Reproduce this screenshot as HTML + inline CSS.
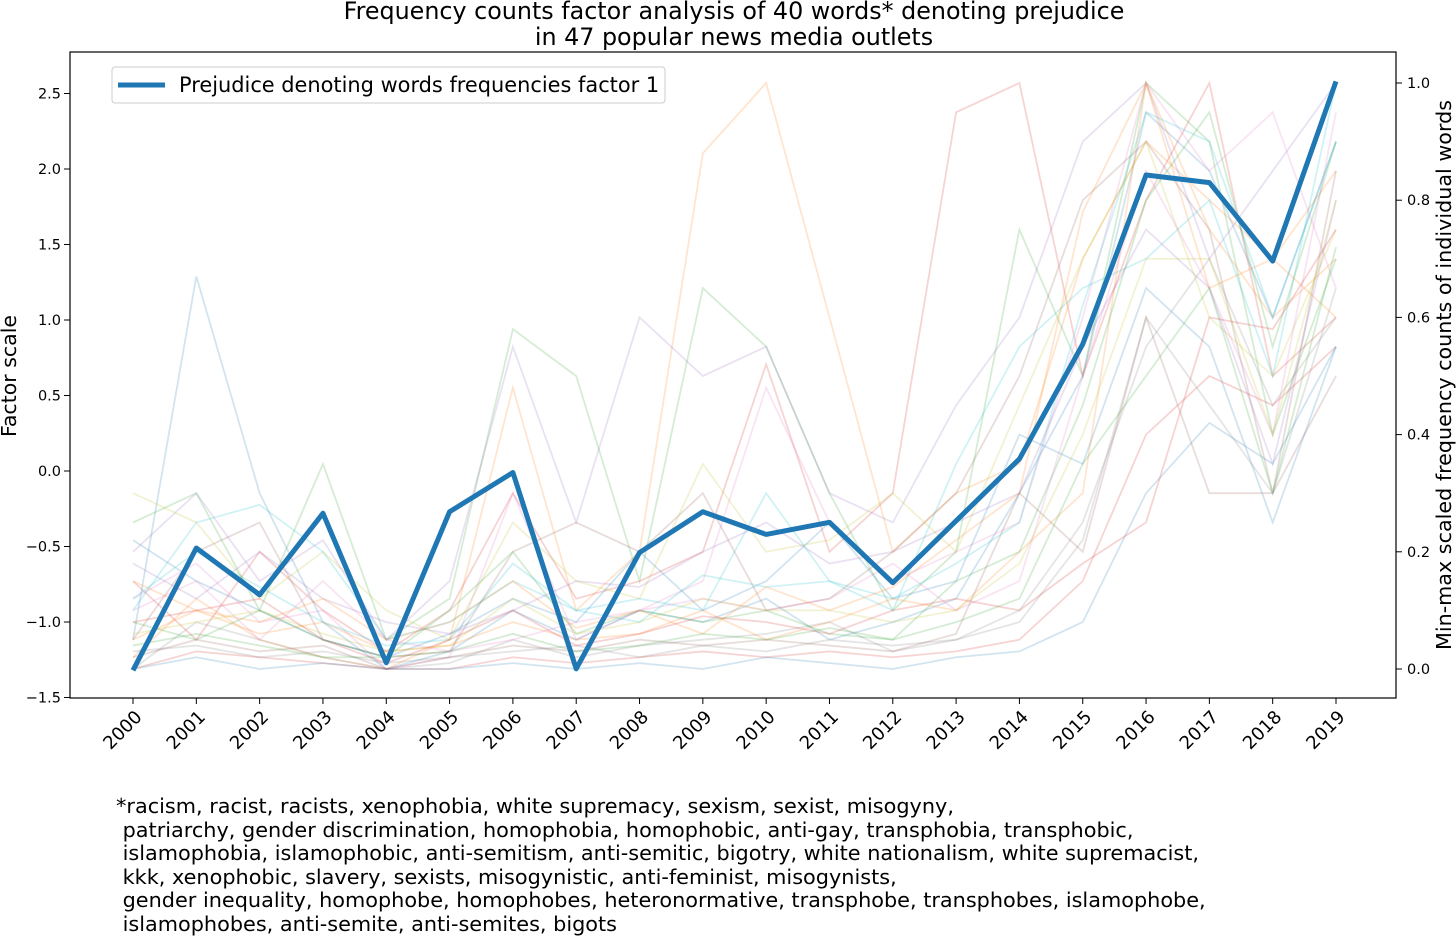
<!DOCTYPE html>
<html><head><meta charset="utf-8">
<style>
body{margin:0;background:#fff;width:1456px;height:937px;overflow:hidden;font-family:"DejaVu Sans","Liberation Sans",sans-serif;}
svg text{font-family:"DejaVu Sans","Liberation Sans",sans-serif;fill:#000;}
#foot{position:absolute;left:116px;top:795px;font-size:20.8px;line-height:23.5px;white-space:pre;color:#000;}
</style></head><body>
<svg id="chart" width="1456" height="937" style="position:absolute;left:0;top:0"></svg>
<div id="foot">*racism, racist, racists, xenophobia, white supremacy, sexism, sexist, misogyny,
 patriarchy, gender discrimination, homophobia, homophobic, anti-gay, transphobia, transphobic,
 islamophobia, islamophobic, anti-semitism, anti-semitic, bigotry, white nationalism, white supremacist,
 kkk, xenophobic, slavery, sexists, misogynistic, anti-feminist, misogynists,
 gender inequality, homophobe, homophobes, heteronormative, transphobe, transphobes, islamophobe,
 islamophobes, anti-semite, anti-semites, bigots</div>
<script>
const years=[2000,2001,2002,2003,2004,2005,2006,2007,2008,2009,2010,2011,2012,2013,2014,2015,2016,2017,2018,2019];
const factor1=[-1.32,-0.51,-0.82,-0.28,-1.27,-0.27,-0.01,-1.31,-0.54,-0.27,-0.42,-0.34,-0.74,-0.33,0.08,0.84,1.96,1.91,1.39,2.58];
const leftTicks=[-1.5,-1.0,-0.5,0.0,0.5,1.0,1.5,2.0,2.5];
const rightTicks=[0.0,0.2,0.4,0.6,0.8,1.0];
const words=[
[0.05,0.67,0.3,0.08,0.0,0.03,0.1,0.05,0.1,0.08,0.12,0.05,0.08,0.12,0.3,0.5,0.95,0.85,0.6,0.9],
[0.02,0.12,0.05,0.02,0.0,0.05,0.48,0.1,0.2,0.88,1.0,0.6,0.2,0.3,0.35,0.7,0.9,0.8,0.7,0.85],
[0.25,0.3,0.1,0.35,0.05,0.12,0.58,0.5,0.15,0.65,0.55,0.3,0.1,0.2,0.75,0.5,1.0,0.9,0.4,0.7],
[0.15,0.05,0.2,0.1,0.03,0.1,0.3,0.12,0.15,0.2,0.52,0.2,0.3,0.95,1.0,0.5,0.8,1.0,0.5,0.6],
[0.2,0.3,0.15,0.22,0.05,0.15,0.55,0.25,0.6,0.5,0.55,0.3,0.25,0.45,0.6,0.9,1.0,0.7,0.85,1.0],
[0.05,0.2,0.25,0.05,0.02,0.03,0.2,0.25,0.2,0.3,0.1,0.12,0.2,0.3,0.5,0.8,0.9,0.75,0.3,0.85],
[0.12,0.18,0.08,0.1,0.0,0.02,0.3,0.05,0.1,0.15,0.48,0.25,0.15,0.2,0.25,0.6,1.0,0.85,0.95,0.65],
[0.0,0.08,0.05,0.02,0.0,0.01,0.05,0.02,0.04,0.05,0.06,0.08,0.03,0.05,0.1,0.25,0.55,0.7,0.45,0.6],
[0.3,0.25,0.12,0.2,0.1,0.05,0.25,0.15,0.12,0.35,0.2,0.22,0.3,0.2,0.45,0.7,0.9,0.6,0.5,0.75],
[0.1,0.25,0.28,0.2,0.05,0.08,0.15,0.1,0.12,0.1,0.3,0.15,0.1,0.35,0.55,0.65,0.7,0.8,0.5,1.0],
[0.22,0.15,0.1,0.05,0.02,0.06,0.12,0.08,0.2,0.1,0.15,0.25,0.12,0.15,0.4,0.35,0.65,0.55,0.25,0.55],
[0.05,0.1,0.06,0.08,0.03,0.04,0.08,0.05,0.06,0.1,0.05,0.08,0.12,0.1,0.2,0.3,1.0,0.75,0.6,0.7],
[0.08,0.05,0.1,0.05,0.02,0.1,0.2,0.06,0.1,0.08,0.1,0.06,0.05,0.15,0.2,0.45,0.8,0.95,0.55,0.9],
[0.0,0.03,0.02,0.01,0.0,0.0,0.02,0.01,0.02,0.03,0.02,0.03,0.02,0.03,0.05,0.15,0.4,0.5,0.45,0.55],
[0.18,0.12,0.2,0.12,0.08,0.06,0.1,0.15,0.14,0.2,0.25,0.18,0.2,0.25,0.3,0.55,0.75,0.65,0.35,0.8],
[0.02,0.05,0.03,0.04,0.0,0.02,0.04,0.03,0.05,0.04,0.05,0.04,0.03,0.06,0.3,0.2,0.6,0.3,0.3,0.5],
[0.1,0.15,0.05,0.15,0.05,0.03,0.05,0.08,0.1,0.12,0.1,0.12,0.18,0.1,0.15,0.5,0.85,0.65,0.4,0.95],
[0.03,0.04,0.02,0.03,0.01,0.02,0.03,0.04,0.02,0.04,0.03,0.05,0.04,0.05,0.08,0.22,0.6,0.45,0.3,0.65],
[0.06,0.08,0.1,0.06,0.03,0.04,0.12,0.06,0.08,0.12,0.1,0.1,0.08,0.1,0.18,0.4,0.7,0.7,0.4,0.8],
[0.12,0.2,0.14,0.08,0.04,0.05,0.18,0.1,0.08,0.16,0.14,0.15,0.12,0.18,0.25,0.62,0.95,0.9,0.6,0.9],
[0.0,0.02,0.0,0.01,0.0,0.0,0.01,0.0,0.01,0.0,0.02,0.01,0.0,0.02,0.03,0.08,0.3,0.42,0.35,0.55],
[0.15,0.1,0.08,0.12,0.05,0.08,0.15,0.07,0.1,0.06,0.14,0.1,0.14,0.22,0.3,0.78,1.0,0.65,0.7,0.6],
[0.04,0.06,0.04,0.02,0.02,0.03,0.06,0.03,0.04,0.06,0.05,0.07,0.05,0.08,0.12,0.35,0.5,0.65,0.3,0.72],
[0.08,0.1,0.12,0.05,0.01,0.05,0.1,0.04,0.06,0.09,0.08,0.06,0.1,0.12,0.1,0.18,0.25,0.6,0.58,0.75]
];
const colors=['#1f77b4','#ff7f0e','#2ca02c','#d62728','#9467bd','#8c564b','#e377c2','#7f7f7f','#bcbd22','#17becf'];
const NS='http://www.w3.org/2000/svg';
const svg=document.getElementById('chart');
const L=70,R=1396,T=52,B=698;
const x=i=>133+i*(1336-133)/(years.length-1);
const yl=v=>471-v*151;
const yr=v=>669-v*586;
function el(tag,attrs,parent){const e=document.createElementNS(NS,tag);for(const k in attrs)e.setAttribute(k,attrs[k]);(parent||svg).appendChild(e);return e;}
function txt(s,attrs){const t=el('text',attrs);t.textContent=s;return t;}
let t;
t=txt('Frequency counts factor analysis of 40 words* denoting prejudice',{x:734,y:19,'font-size':23.8,'text-anchor':'middle'});


t=txt('in 47 popular news media outlets',{x:734,y:45,'font-size':23.8,'text-anchor':'middle'});


words.forEach((w,j)=>{
  const p=el('polyline',{points:w.map((v,i)=>x(i)+','+yr(v)).join(' '),fill:'none',stroke:colors[j%10],'stroke-opacity':0.2,'stroke-width':1.8});
  
  
});
const main=el('polyline',{points:factor1.map((v,i)=>x(i)+','+yl(v)).join(' '),fill:'none',stroke:'#1f77b4','stroke-width':5,'stroke-linejoin':'round'});


const fr=el('rect',{x:L,y:T,width:R-L,height:B-T,fill:'none',stroke:'#000','stroke-width':1.2});


leftTicks.forEach(v=>{
  el('line',{x1:L-6,x2:L,y1:yl(v),y2:yl(v),stroke:'#000'});
  t=txt((v<0?'\u2212':'')+Math.abs(v).toFixed(1),{x:L-9,y:yl(v)+5,'font-size':14.5,'text-anchor':'end'});
  
  
});
rightTicks.forEach(v=>{
  el('line',{x1:R,x2:R+6,y1:yr(v),y2:yr(v),stroke:'#000'});
  t=txt(v.toFixed(1),{x:R+11,y:yr(v)+5,'font-size':14.5});
  
  
});
years.forEach((yv,i)=>{
  el('line',{x1:x(i),x2:x(i),y1:B,y2:B+6,stroke:'#000'});
  t=txt(String(yv),{x:x(i)+10,y:B+20,'font-size':18,'text-anchor':'end',transform:`rotate(-45 ${x(i)+10} ${B+20})`});
  
  
});
t=txt('Factor scale',{x:16,y:376,'font-size':20.5,'text-anchor':'middle',transform:'rotate(-90 16 376)'});


t=txt('Min-max scaled frequency counts of individual words',{x:1451,y:375,'font-size':20.7,'text-anchor':'middle',transform:'rotate(-90 1451 375)'});


const lg=el('rect',{x:112,y:67,width:553,height:36,rx:3,fill:'#fff','fill-opacity':0.85,stroke:'#ccc'});


el('line',{x1:118,x2:165,y1:85,y2:85,stroke:'#1f77b4','stroke-width':5});
t=txt('Prejudice denoting words frequencies factor 1',{x:179,y:92,'font-size':20.9});


</script>
</body></html>
